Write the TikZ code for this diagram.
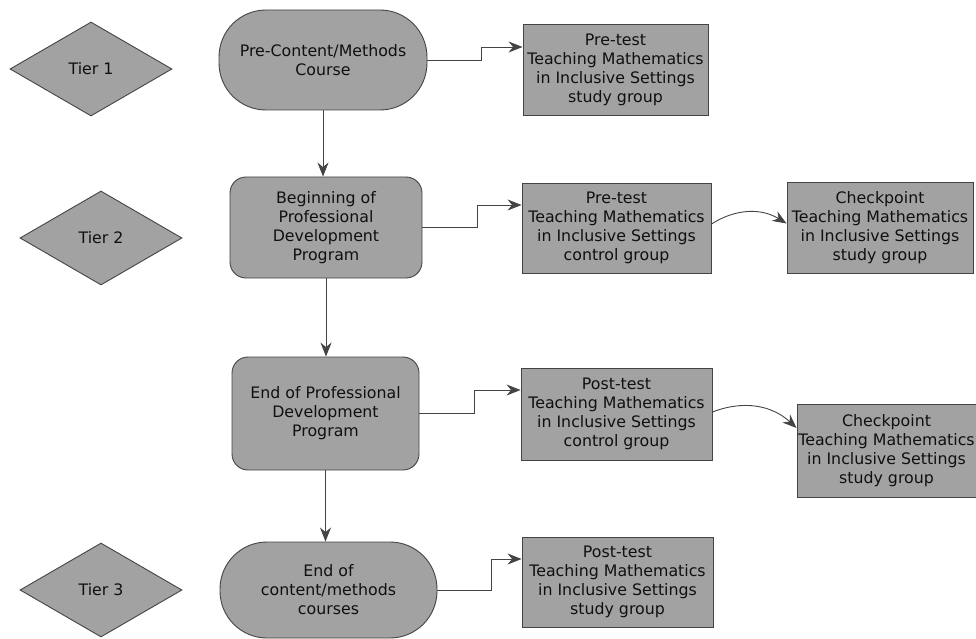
\documentclass[tikz,border=0pt]{standalone}
\usepackage{fontspec}
\setmainfont{DejaVu Sans}
\usetikzlibrary{shapes.geometric,arrows.meta,calc}
\definecolor{shade}{HTML}{A2A2A2}
\definecolor{edge}{HTML}{444444}
\definecolor{txt}{HTML}{101010}
\newcommand{\fs}{\fontsize{15.8pt}{19pt}\selectfont}
\begin{document}
\begin{tikzpicture}[x=1pt,y=-1pt,
  base/.style={draw=edge, fill=shade, line width=0.9pt, text=txt, font=\fs, align=center, inner sep=1pt},
  tier/.style={base, diamond, minimum width=162pt, minimum height=94pt, aspect=1.72},
  pill/.style={base, rectangle, rounded corners=47pt},
  rbox/.style={base, rectangle, rounded corners=16pt},
  sbox/.style={base, rectangle},
  arr/.style={draw=edge, line width=0.9pt, -{Stealth[length=14pt,width=11pt]}}
]
\useasboundingbox (0,0) rectangle (976,639);
\clip (0,0) rectangle (976,639);

% tier diamonds
\node[tier] (t1) at (91,69) {Tier 1};
\node[tier] (t2) at (101,238) {Tier 2};
\node[tier] (t3) at (101,590) {Tier 3};

% main column
\node[pill, minimum width=208pt, minimum height=100pt] (p1) at (323,60) {Pre-Content/Methods\\Course};
\node[rbox, minimum width=192pt, minimum height=101pt] (b2) at (326,227.5) {Beginning of\\Professional\\Development\\Program};
\node[rbox, minimum width=187pt, minimum height=113pt] (b3) at (325.5,413.5) {End of Professional\\Development\\Program};
\node[pill, minimum width=217pt, minimum height=96pt] (p4) at (328.5,590) {End of\\content/methods\\courses};

% test boxes
\node[sbox, minimum width=185pt, minimum height=91pt] (A) at (615.5,69.5) {Pre-test\\Teaching Mathematics\\in Inclusive Settings\\study group};
\node[sbox, minimum width=189pt, minimum height=90pt] (B) at (616.5,228) {Pre-test\\Teaching Mathematics\\in Inclusive Settings\\control group};
\node[sbox, minimum width=186pt, minimum height=91pt] (C) at (880,227.5) {Checkpoint\\Teaching Mathematics\\in Inclusive Settings\\study group};
\node[sbox, minimum width=191pt, minimum height=92pt] (D) at (616.5,414) {Post-test\\Teaching Mathematics\\in Inclusive Settings\\control group};
\node[sbox, minimum width=179pt, minimum height=93pt] (E) at (886.5,450.5) {Checkpoint\\Teaching Mathematics\\in Inclusive Settings\\study group};
\node[sbox, minimum width=191pt, minimum height=90pt] (F) at (617.5,582) {Post-test\\Teaching Mathematics\\in Inclusive Settings\\study group};

% vertical flow
\draw[arr] (p1.south) -- (p1.south |- b2.north);
\draw[arr] (b2.south) -- (b2.south |- b3.north);
\draw[arr] (b3.south) -- (b3.south |- p4.north);

% step connectors
\coordinate (ka) at ($(A.west)+(0,-22.5)$);
\coordinate (kb) at ($(B.west)+(0,-23)$);
\coordinate (kd) at ($(D.west)+(0,-24)$);
\coordinate (kf) at ($(F.west)+(0,-23)$);
\draw[arr] (p1.east) -| ($(ka)+(-41,0)$) -- (ka);
\draw[arr] (b2.east) -| ($(kb)+(-44,0)$) -- (kb);
\draw[arr] (b3.east) -| ($(kd)+(-46,0)$) -- (kd);
\draw[arr] (p4.east) -| ($(kf)+(-30,0)$) -- (kf);

% curved connectors
\draw[arr] ([yshift=4pt]B.east) to[bend left=32] ([yshift=4pt]C.west);
\draw[arr] ([yshift=2pt]D.east) to[bend left=32] ([yshift=22.5pt]E.west);
\end{tikzpicture}
\end{document}
